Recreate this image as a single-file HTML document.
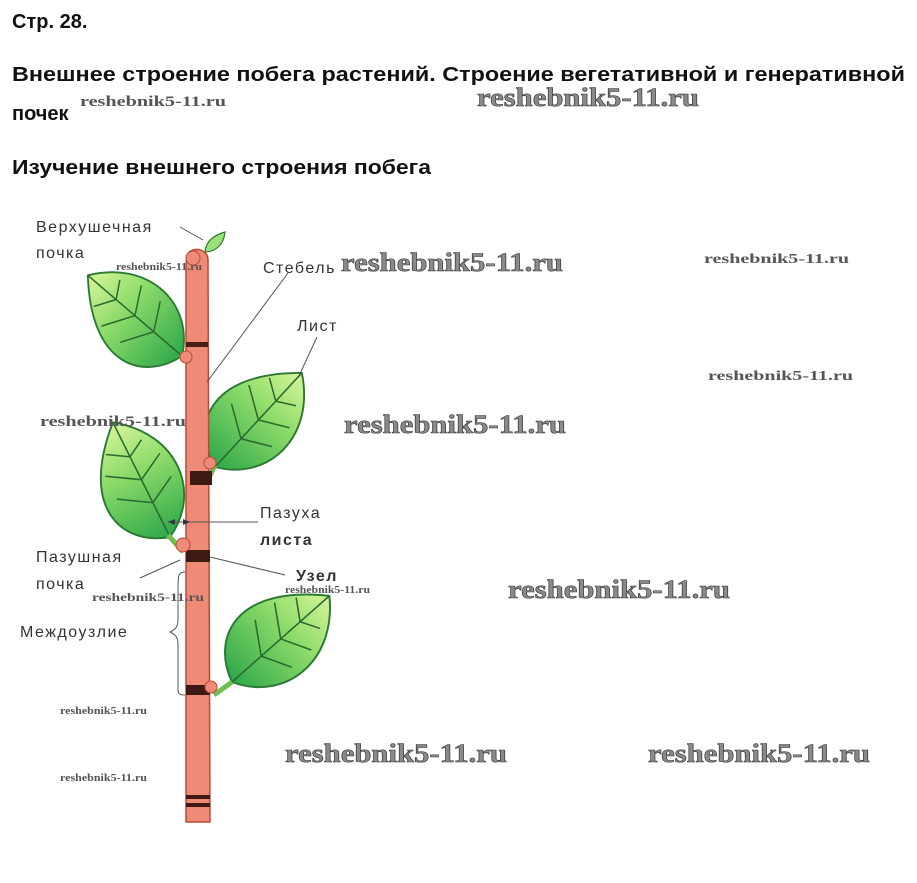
<!DOCTYPE html>
<html><head><meta charset="utf-8"><style>
html,body{margin:0;padding:0;background:#fff;}
svg{display:block;}
.h{font-family:"Liberation Sans",Arial,sans-serif;font-weight:bold;font-size:20px;fill:#111;}
.l{font-family:"Liberation Sans",sans-serif;font-size:16px;fill:#333;letter-spacing:1.5px;}
.wb{font-family:"Liberation Serif",serif;font-weight:bold;font-size:26px;fill:#8a8a8a;stroke:#333;stroke-width:0.6px;}
.ws{font-family:"Liberation Serif",serif;font-weight:bold;font-size:12px;fill:#555;}
</style></head><body>
<svg width="917" height="883" viewBox="0 0 917 883" xmlns="http://www.w3.org/2000/svg">
<defs>
<linearGradient id="lg" x1="0" y1="0" x2="1" y2="0">
<stop offset="0" stop-color="#2fa84a"/><stop offset="0.6" stop-color="#8fdc6a"/><stop offset="1" stop-color="#d8f59a"/>
</linearGradient>
<g id="leaf">
<path d="M0,0 C10,-35 50,-55 100,0 C70,42 20,38 0,0 Z" fill="url(#lg)" stroke="#2a7a33" stroke-width="1.5"/>
<path d="M0,0 L100,0 M30,0 L45,-24 M50,0 L65,-24 M70,0 L80,-16 M30,0 L42,22 M50,0 L62,22 M70,0 L78,14" stroke="#2a6a30" stroke-width="1.2" fill="none"/>
</g>
</defs>
<text class="h" x="12" y="28">Стр. 28.</text>
<text class="h" x="12" y="81" textLength="893" lengthAdjust="spacingAndGlyphs">Внешнее строение побега растений. Строение вегетативной и генеративной</text>
<text class="h" x="12" y="120">почек</text>
<text class="h" x="12" y="174" textLength="419" lengthAdjust="spacingAndGlyphs">Изучение внешнего строения побега</text>

<!-- leaves -->
<use href="#leaf" transform="translate(182,356) rotate(220.6) scale(1.24)"/>
<use href="#leaf" transform="translate(215,467) rotate(-47.3) scale(1.28)"/>
<use href="#leaf" transform="translate(170,537) rotate(243.5) scale(1.28)"/>
<use href="#leaf" transform="translate(232,682) rotate(-41.5) scale(1.3)"/>
<path d="M205,252 C206,240 215,235 225,232 C224,244 216,252 205,252 Z" fill="#9be07a" stroke="#2a7a33" stroke-width="1.2"/>
<path d="M168,535 L183,552 M215,465 L208,480 M232,682 L214,695 M180,355 L190,362" stroke="#6cc050" stroke-width="5" fill="none"/>

<!-- stem -->
<path d="M186,268 L186,822 L210,822 L208,260 C208,252 200,248 193,250 C186,252 186,260 186,268 Z" fill="#ef8a76" stroke="#b84a3a" stroke-width="1.5"/>
<rect x="186" y="342" width="22" height="5" fill="#4a1e18"/>
<rect x="190" y="471" width="22" height="14" fill="#3e1a15"/>
<rect x="186" y="550" width="24" height="12" fill="#3e1a15"/>
<rect x="186" y="685" width="24" height="10" fill="#3e1a15"/>
<rect x="186" y="795" width="24" height="4" fill="#3e1a15"/>
<rect x="186" y="803" width="24" height="4" fill="#3e1a15"/>
<circle cx="193" cy="258" r="7" fill="#ef8a76" stroke="#b84a3a"/>
<circle cx="186" cy="357" r="6" fill="#ef8a76" stroke="#b84a3a"/>
<circle cx="210" cy="463" r="6" fill="#ef8a76" stroke="#b84a3a"/>
<circle cx="183" cy="545" r="7" fill="#ef8a76" stroke="#b84a3a"/>
<circle cx="211" cy="687" r="6" fill="#ef8a76" stroke="#b84a3a"/>

<!-- leader lines -->
<g stroke="#555" stroke-width="1" fill="none">
<path d="M180,227 L203,240"/>
<path d="M288,273 L207,382"/>
<path d="M317,337 L298,378"/>
<path d="M168,522 L258,522"/>
<path d="M210,557 L285,575"/>
<path d="M140,578 L180,560"/>
<path d="M185,572 C178,572 178,576 178,590 L178,620 C178,628 174,630 170,632 C174,634 178,636 178,644 L178,690 C178,694 180,695 185,695"/>
</g>
<path d="M168,522 L175,519 L175,525 Z M190,522 L183,519 L183,525 Z" fill="#334"/>

<!-- labels -->
<text class="l" x="36" y="232">Верхушечная</text>
<text class="l" x="36" y="258">почка</text>
<text class="l" x="263" y="273">Стебель</text>
<text class="l" x="297" y="331">Лист</text>
<text class="l" x="260" y="518">Пазуха</text>
<text class="l" x="260" y="545" style="font-weight:bold">листа</text>
<text class="l" x="296" y="581" style="font-weight:bold">Узел</text>
<text class="l" x="36" y="562">Пазушная</text>
<text class="l" x="36" y="589">почка</text>
<text class="l" x="20" y="637">Междоузлие</text>

<!-- watermarks -->
<text class="wb" x="477" y="106" textLength="222" lengthAdjust="spacingAndGlyphs">reshebnik5-11.ru</text>
<text class="wb" x="341" y="271" textLength="222" lengthAdjust="spacingAndGlyphs">reshebnik5-11.ru</text>
<text class="wb" x="344" y="433" textLength="222" lengthAdjust="spacingAndGlyphs">reshebnik5-11.ru</text>
<text class="wb" x="508" y="598" textLength="222" lengthAdjust="spacingAndGlyphs">reshebnik5-11.ru</text>
<text class="wb" x="285" y="762" textLength="222" lengthAdjust="spacingAndGlyphs">reshebnik5-11.ru</text>
<text class="wb" x="648" y="762" textLength="222" lengthAdjust="spacingAndGlyphs">reshebnik5-11.ru</text>
<text class="ws" x="80" y="106" style="font-size:15px" textLength="146" lengthAdjust="spacingAndGlyphs">reshebnik5-11.ru</text>
<text class="ws" x="116" y="270" style="font-size:10px" textLength="86" lengthAdjust="spacingAndGlyphs">reshebnik5-11.ru</text>
<text class="ws" x="704" y="263" style="font-size:14px" textLength="145" lengthAdjust="spacingAndGlyphs">reshebnik5-11.ru</text>
<text class="ws" x="708" y="380" style="font-size:14px" textLength="145" lengthAdjust="spacingAndGlyphs">reshebnik5-11.ru</text>
<text class="ws" x="40" y="426" style="font-size:15px" textLength="146" lengthAdjust="spacingAndGlyphs">reshebnik5-11.ru</text>
<text class="ws" x="92" y="601" style="font-size:12px" textLength="112" lengthAdjust="spacingAndGlyphs">reshebnik5-11.ru</text>
<text class="ws" x="285" y="593" style="font-size:10px" textLength="85" lengthAdjust="spacingAndGlyphs">reshebnik5-11.ru</text>
<text class="ws" x="60" y="714" style="font-size:10px" textLength="87" lengthAdjust="spacingAndGlyphs">reshebnik5-11.ru</text>
<text class="ws" x="60" y="781" style="font-size:10px" textLength="87" lengthAdjust="spacingAndGlyphs">reshebnik5-11.ru</text>
</svg>
</body></html>
